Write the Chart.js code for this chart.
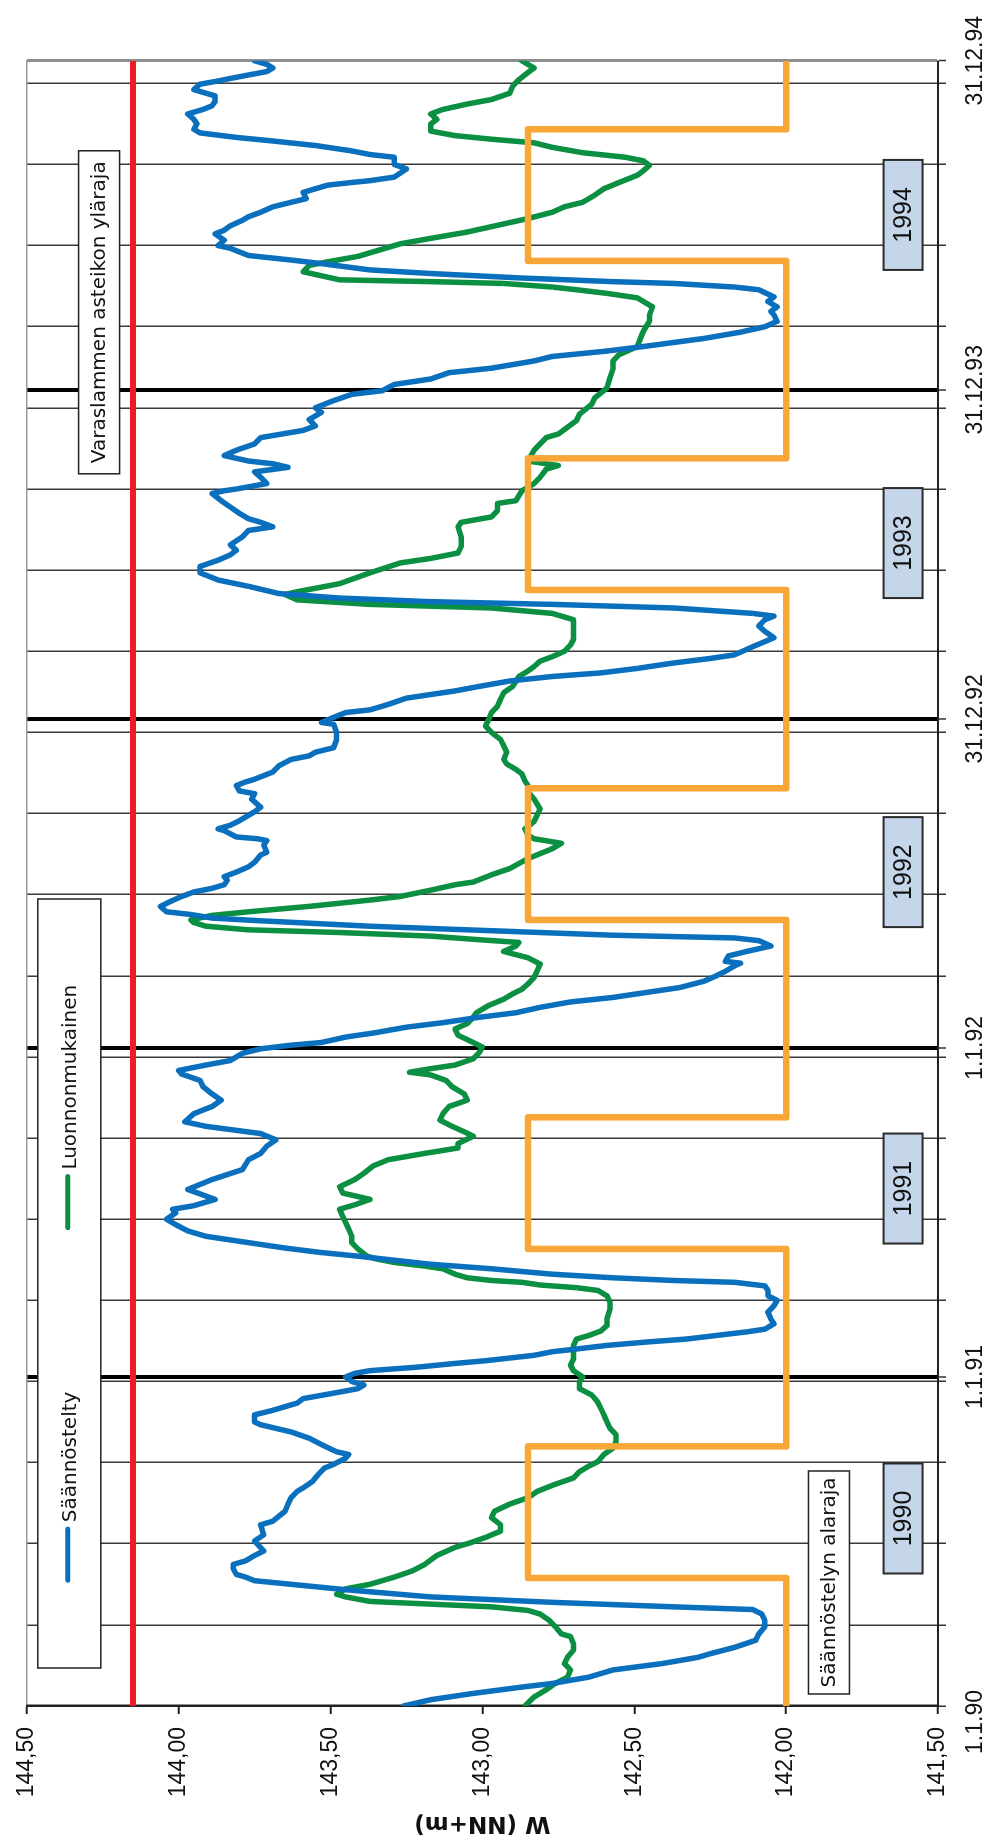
<!DOCTYPE html>
<html>
<head>
<meta charset="utf-8">
<title>Vedenkorkeus 1990–1994</title>
<script src="https://cdn.jsdelivr.net/npm/chart.js@4.4.1/dist/chart.umd.min.js"></script>
<style>
  html, body { margin: 0; padding: 0; background: #fff; }
  body { width: 1000px; height: 1840px; position: relative; overflow: hidden; }
  /* the chart is laid out landscape and turned a quarter turn to stand upright */
  #frame { position: absolute; left: 0; top: 0; width: 1840px; height: 1000px;
           transform-origin: 0 0; transform: translateY(1840px) rotate(-90deg); }
  canvas { display: block; }
</style>
</head>
<body>
<div id="frame"><canvas id="chart" width="1840" height="1000" style="width:1840px;height:1000px"></canvas></div>
<script>
// Day numbers count from 1.1.1990 (day 0) to 31.12.1994 (day 1825).

// Säännöstelty – regulated water level, [day, level m]
const regulated = [
  [0,143.26],[7,143.17],[14,143.03],[21,142.87],[25,142.77],[32,142.65],[40,142.57],[47,142.41],[54,142.29],[58,142.25],
  [65,142.17],[73,142.10],[80,142.09],[88,142.07],[95,142.07],[102,142.08],[107,142.11],[110,142.37],[115,142.77],[121,143.17],
  [129,143.45],[135,143.63],[139,143.75],[143,143.78],[146,143.81],[152,143.82],[157,143.82],[161,143.78],[167,143.75],[172,143.72],
  [183,143.75],[190,143.72],[201,143.73],[205,143.69],[216,143.65],[224,143.64],[231,143.63],[238,143.61],[242,143.59],[249,143.56],
  [257,143.54],[264,143.52],[268,143.49],[275,143.45],[279,143.44],[282,143.48],[290,143.53],[297,143.57],[304,143.63],[312,143.73],
  [315,143.75],[323,143.75],[328,143.69],[336,143.61],[341,143.59],[347,143.49],[352,143.41],[356,143.39],[360,143.43],[365,143.45],
  [369,143.42],[372,143.37],[376,143.21],[380,143.09],[383,142.99],[389,142.83],[393,142.77],[396,142.69],[400,142.59],[404,142.45],
  [407,142.33],[411,142.23],[415,142.13],[418,142.07],[424,142.04],[429,142.05],[437,142.06],[444,142.04],[450,142.03],[455,142.06],
  [461,142.06],[466,142.07],[470,142.17],[472,142.37],[475,142.57],[479,142.77],[485,142.97],[490,143.17],[496,143.33],[499,143.41],
  [503,143.53],[508,143.65],[512,143.73],[518,143.85],[521,143.91],[527,143.97],[534,144.01],[540,144.04],[547,144.01],[551,144.02],
  [555,143.95],[562,143.88],[573,143.97],[584,143.89],[595,143.79],[606,143.77],[613,143.73],[621,143.71],[628,143.68],[635,143.73],
  [643,143.91],[648,143.98],[657,143.95],[665,143.89],[672,143.86],[679,143.89],[687,143.92],[694,143.93],[701,143.99],[705,144.00],
  [711,143.91],[716,143.83],[724,143.79],[729,143.73],[733,143.63],[736,143.53],[742,143.45],[747,143.35],[753,143.25],[758,143.13],
  [764,143.01],[769,142.89],[775,142.81],[781,142.71],[786,142.57],[792,142.45],[797,142.35],[804,142.27],[810,142.23],[815,142.20],
  [821,142.17],[824,142.15],[826,142.20],[832,142.19],[837,142.13],[843,142.05],[849,142.09],[852,142.17],[855,142.57],[860,142.97],
  [865,143.37],[871,143.73],[874,143.89],[878,143.96],[881,144.04],[887,144.06],[892,144.03],[898,143.99],[903,143.95],[907,143.89],
  [911,143.85],[916,143.84],[920,143.85],[925,143.81],[931,143.77],[936,143.75],[944,143.73],[947,143.71],[955,143.72],[960,143.71],
  [962,143.74],[964,143.81],[971,143.85],[973,143.87],[977,143.83],[982,143.80],[988,143.77],[992,143.75],[997,143.73],[1006,143.76],
  [1012,143.75],[1015,143.80],[1021,143.81],[1025,143.78],[1028,143.75],[1036,143.69],[1043,143.67],[1050,143.63],[1054,143.57],[1058,143.55],
  [1063,143.49],[1072,143.48],[1080,143.48],[1089,143.49],[1091,143.53],[1098,143.48],[1102,143.45],[1105,143.37],[1111,143.31],[1118,143.25],
  [1122,143.17],[1126,143.09],[1131,143.01],[1137,142.91],[1142,142.77],[1146,142.61],[1151,142.49],[1157,142.37],[1162,142.25],[1166,142.17],
  [1175,142.11],[1185,142.04],[1192,142.07],[1198,142.09],[1205,142.07],[1209,142.04],[1212,142.11],[1218,142.37],[1222,142.77],[1225,143.17],
  [1229,143.47],[1234,143.67],[1242,143.77],[1249,143.87],[1257,143.93],[1264,143.93],[1271,143.87],[1277,143.83],[1282,143.81],[1288,143.83],
  [1297,143.79],[1304,143.77],[1308,143.69],[1313,143.73],[1317,143.77],[1323,143.80],[1330,143.83],[1337,143.86],[1345,143.89],[1348,143.85],
  [1350,143.81],[1356,143.71],[1363,143.73],[1369,143.75],[1374,143.64],[1378,143.69],[1381,143.77],[1387,143.85],[1393,143.81],[1400,143.75],
  [1407,143.73],[1415,143.59],[1420,143.55],[1427,143.57],[1435,143.53],[1440,143.55],[1448,143.49],[1455,143.43],[1459,143.33],[1466,143.29],
  [1472,143.17],[1479,143.11],[1484,142.97],[1492,142.83],[1497,142.77],[1503,142.59],[1508,142.47],[1517,142.27],[1524,142.15],[1530,142.07],
  [1536,142.03],[1543,142.04],[1547,142.05],[1552,142.03],[1558,142.06],[1563,142.04],[1571,142.09],[1574,142.17],[1578,142.37],[1580,142.57],
  [1584,142.87],[1589,143.17],[1593,143.37],[1600,143.53],[1604,143.63],[1609,143.77],[1617,143.83],[1620,143.87],[1626,143.85],[1633,143.88],
  [1637,143.85],[1642,143.83],[1648,143.79],[1652,143.77],[1657,143.73],[1663,143.69],[1668,143.63],[1672,143.58],[1679,143.59],[1683,143.55],
  [1687,143.51],[1690,143.43],[1692,143.37],[1696,143.29],[1705,143.25],[1710,143.29],[1718,143.29],[1721,143.37],[1725,143.43],[1731,143.55],
  [1736,143.69],[1740,143.81],[1745,143.93],[1749,143.95],[1755,143.94],[1760,143.95],[1766,143.97],[1771,143.92],[1775,143.89],[1780,143.88],
  [1786,143.88],[1789,143.91],[1793,143.95],[1799,143.93],[1802,143.88],[1808,143.79],[1813,143.71],[1817,143.69],[1821,143.71],[1825,143.75]
];

// Luonnonmukainen – natural (unregulated) water level, [day, level m]
const natural = [
  [0,142.86],[10,142.83],[18,142.79],[25,142.76],[32,142.72],[40,142.71],[47,142.73],[54,142.72],[62,142.70],[69,142.70],
  [77,142.71],[80,142.74],[88,142.76],[95,142.78],[102,142.81],[106,142.85],[110,142.97],[113,143.17],[116,143.37],[121,143.45],
  [124,143.48],[130,143.45],[135,143.37],[143,143.29],[150,143.23],[157,143.19],[167,143.15],[176,143.09],[181,143.04],[187,142.99],
  [194,142.94],[201,142.94],[209,142.97],[216,142.96],[224,142.91],[231,142.85],[238,142.82],[246,142.76],[253,142.70],[260,142.68],
  [266,142.65],[271,142.62],[279,142.60],[286,142.57],[293,142.56],[301,142.56],[308,142.58],[315,142.59],[323,142.60],[330,142.61],
  [337,142.62],[345,142.64],[352,142.68],[360,142.68],[365,142.67],[372,142.70],[378,142.71],[385,142.70],[393,142.70],[400,142.70],
  [407,142.69],[411,142.65],[416,142.61],[422,142.59],[429,142.59],[440,142.58],[448,142.58],[455,142.59],[461,142.62],[464,142.69],
  [467,142.81],[470,142.87],[472,142.97],[475,143.05],[479,143.09],[485,143.13],[488,143.19],[492,143.29],[496,143.35],[499,143.38],
  [507,143.41],[514,143.43],[521,143.43],[529,143.44],[536,143.45],[543,143.46],[551,143.47],[556,143.42],[562,143.37],[569,143.46],
  [576,143.47],[584,143.42],[591,143.39],[599,143.36],[606,143.31],[613,143.19],[619,143.08],[624,143.08],[632,143.03],[637,143.06],
  [643,143.10],[650,143.14],[657,143.13],[665,143.11],[672,143.05],[679,143.06],[687,143.10],[694,143.12],[700,143.17],[703,143.24],
  [707,143.17],[711,143.09],[718,143.03],[725,143.01],[731,143.00],[736,143.03],[744,143.08],[751,143.09],[757,143.05],[764,143.03],
  [769,143.02],[777,142.98],[784,142.93],[790,142.90],[795,142.87],[801,142.85],[808,142.83],[815,142.82],[823,142.81],[830,142.85],
  [837,142.93],[843,142.89],[847,142.88],[850,143.01],[854,143.17],[858,143.47],[861,143.77],[865,143.91],[869,143.95],[872,143.96],
  [877,143.89],[881,143.77],[887,143.57],[894,143.37],[898,143.27],[905,143.17],[911,143.09],[914,143.03],[922,142.97],[929,142.91],
  [940,142.85],[951,142.77],[957,142.74],[962,142.83],[966,142.85],[973,142.86],[981,142.83],[988,142.82],[995,142.81],[1006,142.83],
  [1014,142.85],[1021,142.85],[1026,142.86],[1034,142.87],[1039,142.89],[1045,142.92],[1050,142.93],[1058,142.92],[1065,142.93],[1072,142.94],
  [1080,142.97],[1087,142.99],[1094,142.98],[1102,142.97],[1109,142.95],[1117,142.94],[1124,142.93],[1131,142.90],[1142,142.88],[1148,142.85],
  [1153,142.83],[1159,142.81],[1164,142.77],[1170,142.73],[1177,142.71],[1183,142.70],[1190,142.70],[1198,142.70],[1205,142.70],[1212,142.77],
  [1218,142.97],[1222,143.37],[1227,143.61],[1233,143.65],[1236,143.61],[1245,143.47],[1257,143.37],[1268,143.27],[1273,143.17],[1279,143.08],
  [1286,143.07],[1297,143.07],[1308,143.08],[1313,143.07],[1319,142.97],[1326,142.95],[1334,142.95],[1337,142.89],[1348,142.87],[1356,142.83],
  [1363,142.81],[1372,142.79],[1376,142.75],[1381,142.85],[1393,142.83],[1407,142.79],[1411,142.75],[1426,142.69],[1433,142.68],[1444,142.64],
  [1451,142.63],[1462,142.59],[1473,142.58],[1483,142.57],[1492,142.57],[1499,142.55],[1508,142.49],[1517,142.48],[1525,142.47],[1536,142.45],
  [1543,142.45],[1552,142.44],[1558,142.47],[1562,142.49],[1567,142.59],[1571,142.69],[1574,142.77],[1578,142.93],[1580,143.17],[1582,143.47],
  [1591,143.59],[1598,143.57],[1602,143.51],[1608,143.41],[1622,143.27],[1628,143.17],[1635,143.05],[1644,142.93],[1650,142.85],[1657,142.77],
  [1663,142.73],[1668,142.67],[1676,142.63],[1683,142.60],[1690,142.55],[1698,142.49],[1703,142.47],[1709,142.45],[1714,142.47],[1718,142.53],
  [1723,142.67],[1729,142.77],[1734,142.83],[1738,142.97],[1742,143.09],[1747,143.17],[1755,143.17],[1760,143.15],[1766,143.17],[1771,143.13],
  [1777,143.05],[1782,142.97],[1789,142.91],[1797,142.90],[1804,142.88],[1812,142.85],[1817,142.83],[1821,142.85],[1825,142.87]
];

// Säännöstelyn alaraja – lower regulation limit, held from each listed day to the next
const lowerLimitSteps = [
  [0,142.00],[142,142.85],[288,142.00],[507,142.85],[653,142.00],[872,142.85],
  [1018,142.00],[1238,142.85],[1384,142.00],[1603,142.85],[1749,142.00],[1825,142.00]
];

// Varaslammen asteikon yläraja – top of the gauge scale
const gaugeTop = 144.15;

// Time axis
const firstDay = 0;
const lastDay = 1825;
const guideDays = [0,90,180,270,360,450,540,630,720,810,900,990,1080,1170,1260,1350,1440,1530,1620,1710,1800];
const yearEdgeDays = [365,730,1095,1460];
const dateLabelDays = [0,365,730,1095,1460,1825];
const dateLabels = ['1.1.90','1.1.91','1.1.92','31.12.92','31.12.93','31.12.94'];

// Level axis
const levelMin = 141.5;
const levelMax = 144.5;
const levelStep = 0.5;

// Year captions and the two text notes (anchored by day and level)
const yearNames = ['1990','1991','1992','1993','1994'];
const yearDays = [208,574,925,1290,1654];
const yearLevel = 141.615;
const noteTexts = ['Varaslammen asteikon yläraja','Säännöstelyn alaraja'];
const noteDays = [1546,137];
const noteLevels = [144.262,141.859];
const noteWidths = [323,223];

const BLUE = '#0a70bd';
const GREEN = '#0b8f42';
const ORANGE = '#f8a637';
const RED = '#ec1c24';

const toXY = (pairs) => pairs.map(p => ({ x: p[0], y: p[1] }));

const allTickDays = Array.from(new Set(guideDays.concat(yearEdgeDays, dateLabelDays))).sort((a, b) => a - b);

const boxesPlugin = {
  id: 'boxes',
  afterDatasetsDraw(chart) {
    const { ctx, chartArea, scales } = chart;
    const xs = scales.x, ys = scales.y;
    ctx.save();

    // legend frame with the two level series
    const lx = chartArea.left + 38, ly = chartArea.top + 11, lw = 769, lh = 63;
    ctx.fillStyle = '#fff';
    ctx.fillRect(lx, ly, lw, lh);
    ctx.strokeStyle = '#222';
    ctx.lineWidth = 1.5;
    ctx.strokeRect(lx, ly, lw, lh);
    ctx.font = '20px "DejaVu Sans", sans-serif';
    ctx.textBaseline = 'middle';
    ctx.textAlign = 'left';
    const items = [chart.data.datasets[2], chart.data.datasets[3]];
    const sample = 55, gap = 5, spacing = 162;
    const widths = items.map(d => ctx.measureText(d.label).width);
    const total = sample + gap + widths[0] + spacing + sample + gap + widths[1];
    let cx = lx + (lw - total) / 2;
    const cy = ly + lh / 2;
    items.forEach((d, i) => {
      ctx.strokeStyle = d.borderColor;
      ctx.lineWidth = 5;
      ctx.lineCap = 'round';
      ctx.beginPath();
      ctx.moveTo(cx + 2, cy - 1.5);
      ctx.lineTo(cx + sample - 2, cy - 1.5);
      ctx.stroke();
      ctx.fillStyle = '#111';
      ctx.fillText(d.label, cx + sample + gap, cy + 1);
      cx += sample + gap + widths[i] + spacing;
    });

    // white note boxes
    noteTexts.forEach((t, i) => {
      const px = xs.getPixelForValue(noteDays[i]);
      const py = ys.getPixelForValue(noteLevels[i]);
      const w = noteWidths[i], h = 41;
      ctx.fillStyle = '#fff';
      ctx.fillRect(px - w / 2, py - h / 2, w, h);
      ctx.strokeStyle = '#222';
      ctx.lineWidth = 1.5;
      ctx.strokeRect(px - w / 2, py - h / 2, w, h);
      ctx.fillStyle = '#111';
      ctx.font = '20px "DejaVu Sans", sans-serif';
      ctx.textAlign = 'center';
      ctx.fillText(t, px, py + 1);
    });

    // year captions
    yearNames.forEach((t, i) => {
      const px = xs.getPixelForValue(yearDays[i]);
      const py = ys.getPixelForValue(yearLevel);
      const w = 110, h = 39;
      ctx.fillStyle = '#c5d5ea';
      ctx.fillRect(px - w / 2, py - h / 2, w, h);
      ctx.strokeStyle = '#2a2a2a';
      ctx.lineWidth = 2;
      ctx.strokeRect(px - w / 2, py - h / 2, w, h);
      ctx.fillStyle = '#111';
      ctx.font = '25px "Liberation Sans", Arial, sans-serif';
      ctx.textAlign = 'center';
      ctx.fillText(t, px, py + 1);
    });
    ctx.restore();
  }
};

const axisFont = { family: '"Liberation Sans", Arial, sans-serif', size: 23 };

new Chart(document.getElementById('chart'), {
  type: 'line',
  data: {
    datasets: [
      { label: 'Varaslammen asteikon yläraja', data: toXY([[firstDay, gaugeTop], [lastDay, gaugeTop]]),
        borderColor: RED, borderWidth: 6, pointRadius: 0, borderCapStyle: 'butt' },
      { label: 'Säännöstelyn alaraja', data: toXY(lowerLimitSteps), stepped: true,
        borderColor: ORANGE, borderWidth: 6.5, pointRadius: 0, borderJoinStyle: 'round' },
      { label: 'Säännöstelty', data: toXY(regulated),
        borderColor: BLUE, borderWidth: 5.5, pointRadius: 0, tension: 0, borderJoinStyle: 'round', borderCapStyle: 'round' },
      { label: 'Luonnonmukainen', data: toXY(natural),
        borderColor: GREEN, borderWidth: 5.5, pointRadius: 0, tension: 0, borderJoinStyle: 'round', borderCapStyle: 'round' }
    ]
  },
  options: {
    responsive: false,
    animation: false,
    devicePixelRatio: 1,
    layout: { padding: { top: 24, right: 52, bottom: 0, left: 0 } },
    plugins: { legend: { display: false }, tooltip: { enabled: false } },
    scales: {
      x: {
        type: 'linear',
        position: 'bottom',
        min: firstDay,
        max: lastDay,
        afterBuildTicks: (scale) => { scale.ticks = allTickDays.map(v => ({ value: v })); },
        afterFit: (scale) => { scale.height = 62; },
        ticks: {
          autoSkip: false, maxRotation: 0, minRotation: 0,
          padding: 16, color: '#111', font: axisFont,
          callback: (value) => {
            const i = dateLabelDays.indexOf(value);
            if (i < 0) return '';
            // the first date sits just before the axis start
            return i === 0 ? dateLabels[i] + '\u00a0\u00a0\u00a0\u00a0\u00a0' : dateLabels[i];
          }
        },
        grid: {
          drawTicks: true, tickLength: 8, tickWidth: 1.5, tickColor: '#333',
          color: (c) => {
            const v = c.tick ? c.tick.value : null;
            if (v === firstDay) return 'rgba(0,0,0,0)';
            if (v === lastDay) return '#8d8d8d';
            if (yearEdgeDays.includes(v)) return '#000';
            return '#3a3a3a';
          },
          lineWidth: (c) => {
            const v = c.tick ? c.tick.value : null;
            if (v === lastDay) return 3;
            if (yearEdgeDays.includes(v)) return 4;
            return 1.5;
          }
        },
        border: { display: true, color: '#222', width: 2 }
      },
      y: {
        type: 'linear',
        position: 'left',
        min: levelMin,
        max: levelMax,
        afterFit: (scale) => { scale.width = 134; },
        ticks: {
          stepSize: levelStep, padding: 13, color: '#111', font: axisFont,
          callback: (value) => value.toFixed(2).replace('.', ',')
        },
        grid: {
          drawTicks: true, tickLength: 8, tickWidth: 2, tickColor: '#222',
          color: (c) => (c.tick && c.tick.value === levelMax) ? '#9a9a9a' : 'rgba(0,0,0,0)',
          lineWidth: 1.5
        },
        border: { display: true, color: '#222', width: 2.5 },
        title: {
          display: true, text: 'W (NN+m)', color: '#111',
          font: { family: '"DejaVu Sans", sans-serif', size: 23, weight: 'bold' },
          padding: { top: 3, bottom: 0 }
        }
      }
    }
  },
  plugins: [boxesPlugin]
});
</script>
</body>
</html>
